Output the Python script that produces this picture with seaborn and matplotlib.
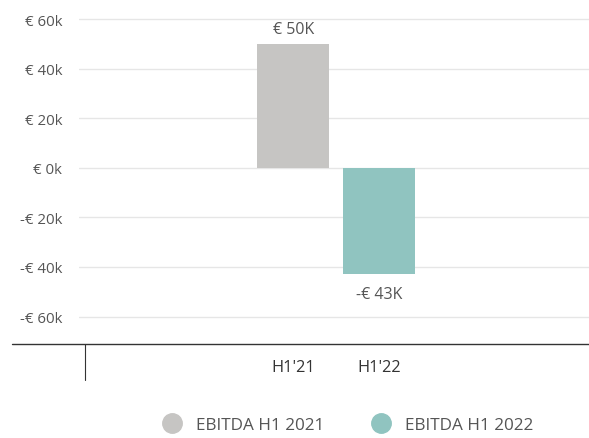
import matplotlib
matplotlib.use("Agg")
import matplotlib.pyplot as plt
from matplotlib.lines import Line2D
import pandas as pd
import seaborn as sns

periods = ["H1'21", "H1'22"]
series = ["EBITDA H1 2021", "EBITDA H1 2022"]
values = [50000, -43000]
value_labels = ["€ 50K", "-€ 43K"]
colors = ["#c6c5c3", "#90c4c0"]
yticks = [-60000, -40000, -20000, 0, 20000, 40000, 60000]
ytick_labels = ["-€ 60k", "-€ 40k", "-€ 20k", "€ 0k", "€ 20k", "€ 40k", "€ 60k"]

df = pd.DataFrame({"period": periods, "series": series, "value": values})

sns.set_style("white")
plt.rcParams["font.family"] = ["Open Sans", "DejaVu Sans"]
text_color = "#555555"

fig = plt.figure(figsize=(5.89, 4.39), dpi=100)
ax = fig.add_axes([79 / 589, 1 - 345 / 439, 510 / 589, 335 / 439])

sns.barplot(data=df, x="period", y="value", hue="series", palette=colors,
            dodge=False, width=0.84, saturation=1, linewidth=0, ax=ax, legend=False)

ax.set_xlim(-2.49, 3.44)
ax.set_ylim(-71100, 64200)
ax.set_yticks(yticks)
ax.set_yticklabels(ytick_labels)
ax.grid(axis="y", color="#e6e6e6", linewidth=1)
ax.set_axisbelow(True)
for s in ax.spines.values():
    s.set_visible(False)
ax.tick_params(axis="y", length=0, pad=12, labelsize=10.8, labelcolor=text_color)
ax.tick_params(axis="x", length=0, pad=11, labelsize=11.8, labelcolor="#333333")
ax.set_xlabel("")
ax.set_ylabel("")

# baseline extending left of the plot and a category boundary tick
ax.plot([-0.131, 1], [0, 0], transform=ax.transAxes, color="#333333",
        linewidth=1, clip_on=False)
ax.plot([0.0118, 0.0118], [0, -0.107], transform=ax.transAxes, color="#333333",
        linewidth=0.8, clip_on=False)

for i, (v, lab) in enumerate(zip(values, value_labels)):
    off = 3000 if v > 0 else -4500
    ax.text(i, v + off, lab, ha="center", va="bottom" if v > 0 else "top",
            fontsize=11.5, color=text_color)

handles = [Line2D([], [], marker="o", linestyle="", markersize=14,
                  markerfacecolor=c, markeredgecolor=c) for c in colors]
fig.legend(handles, series, loc="center", bbox_to_anchor=(0.584, 1 - 426 / 439),
           ncol=2, frameon=False, fontsize=12.3, labelcolor=text_color,
           handletextpad=0.4, columnspacing=2.3)

fig.savefig("out.png", dpi=100)
